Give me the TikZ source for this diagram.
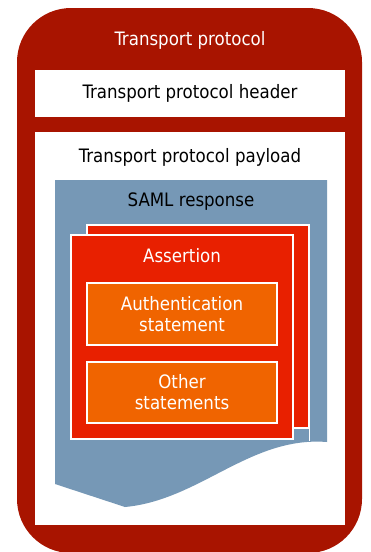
\documentclass[tikz,border=0pt]{standalone}
\usepackage{fontspec}
\setmainfont{DejaVu Sans Condensed}
\definecolor{framered}{HTML}{A81400}
\definecolor{samlblue}{HTML}{7698B6}
\definecolor{assertred}{HTML}{E82000}
\definecolor{stmtorange}{HTML}{F06400}
\tikzset{
  lbl/.style={font=\fontsize{18.5}{21}\selectfont, align=center, inner sep=0pt},
  panel/.style={fill=white, inner sep=0pt},
  page/.style={fill=assertred, draw=white, line width=1.3pt, inner sep=0pt},
  stmtbox/.style={fill=stmtorange, draw=white, line width=1.3pt, inner sep=0pt,
    font=\fontsize{18.5}{21}\selectfont, align=center, text=white}
}
\begin{document}
\begin{tikzpicture}[x=1pt,y=-1pt]
\useasboundingbox (0,0) rectangle (370,552);

% outer transport protocol frame
\fill[framered, rounded corners=54pt] (17,8) rectangle (362,553);
\node[lbl, text=white] (title) at (190,40) {Transport protocol};

% header and payload panels
\node[panel, minimum width=310pt, minimum height=47pt] (header) at (190,93.5) {};
\node[lbl] (headertext) at (header.center) {Transport protocol header};
\node[panel, minimum width=310pt, minimum height=393pt] (payload) at (190,328.5) {};
\node[lbl] (payloadtext) at (190,157) {Transport protocol payload};

% SAML response document shape with wavy bottom
\fill[samlblue] (55,180) -- (327,180) -- (327,442)
  .. controls (250,436) and (200,500) .. (125,507) -- (55,484) -- cycle;
\node[lbl] (samltext) at (191,202) {SAML response};

% stacked assertion pages
\node[page, minimum width=222pt, minimum height=203pt] (backpage) at (198,326.5) {};
\draw[white, line width=1.3pt] (backpage.south east) -- ++(0,12);
\node[page, minimum width=222pt, minimum height=204pt] (assertion) at (182,337) {};
\node[lbl, text=white] (asserttext) at (182,256) {Assertion};

% statements
\node[stmtbox, minimum width=190pt, minimum height=62pt] (authn) at (182,314) {Authentication\\statement};
\node[stmtbox, minimum width=190pt, minimum height=61pt] (other) at (182,392.5) {Other\\statements};
\end{tikzpicture}
\end{document}
